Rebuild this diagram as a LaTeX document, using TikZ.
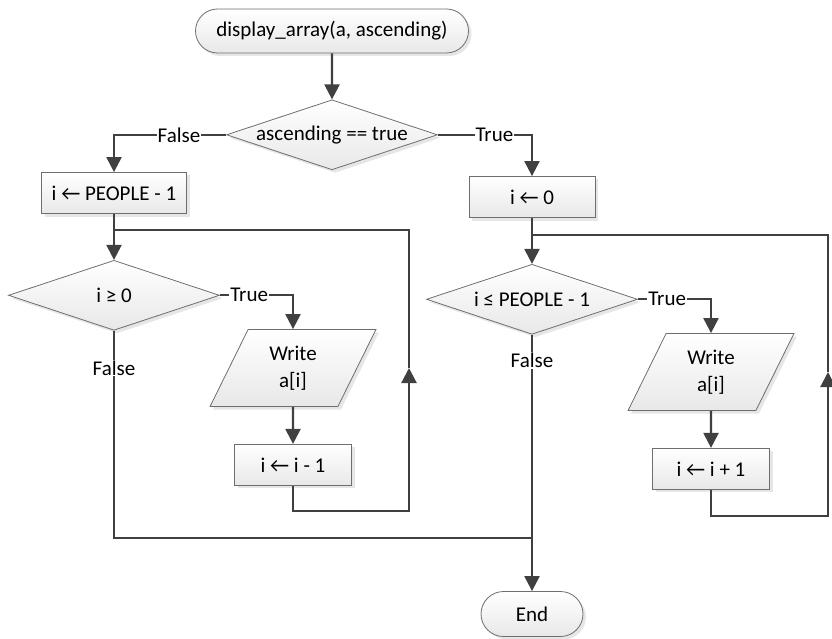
\documentclass[tikz,border=0pt]{standalone}
\usepackage{fontspec}
\setmainfont{Carlito}
\usetikzlibrary{
    positioning,
    arrows.meta,
    shapes.geometric,
    shapes.misc,
    shadows
}

\definecolor{linegray}{HTML}{404040}
\definecolor{bordergray}{HTML}{6E6E6E}

\begin{document}
\begin{tikzpicture}[
    x=1pt, y=-1pt,
    every node/.style={font=\fontsize{21}{27}\selectfont},
    box/.style={draw=bordergray, line width=0.8pt, top color=white, bottom color=gray!18, drop shadow={opacity=0.2, shadow xshift=3pt, shadow yshift=-3pt}, align=center, inner sep=0pt},
    terminal/.style={box, rounded rectangle, minimum height=44pt},
    process/.style={box, rectangle, minimum height=41pt},
    decision/.style={box, diamond, aspect=3, minimum width=211pt, minimum height=70pt},
    io/.style={box, trapezium, trapezium left angle=65.6, trapezium right angle=114.4, trapezium stretches=true, minimum width=166pt, minimum height=77pt},
    line/.style={draw=linegray, line width=2.2pt},
    arrow/.style={line, -{Triangle[length=15pt, width=15pt]}},
    lbl/.style={fill=white, inner sep=1pt}
]
\useasboundingbox (0,0) rectangle (832,639);

\node[terminal, minimum width=273pt] (start) at (332,31) {display\_array(a, ascending)};
\node[decision, below=46pt of start] (cond) {ascending == true};

% descending branch
\node[process, minimum width=145pt] (initdown) at (114,193) {i ← PEOPLE - 1};
\node[decision, below=46pt of initdown] (loopdown) {i ≥ 0};
\node[io] (writedown) at (293,368) {Write\\a[i]};
\node[process, minimum width=117pt, below=37pt of writedown] (decr) {i ← i - 1};

% ascending branch
\node[process, minimum width=126pt] (initup) at (532,197) {i ← 0};
\node[decision, below=46pt of initup] (loopup) {i ≤ PEOPLE - 1};
\node[io] (writeup) at (711,372) {Write\\a[i]};
\node[process, minimum width=117pt, below=37pt of writeup] (incr) {i ← i + 1};

\node[terminal, minimum width=102pt, minimum height=45pt] (stop) at (532,614) {End};

\coordinate (jdown) at (114,230);
\coordinate (rdown) at (409,511);
\coordinate (jup) at (532,235);
\coordinate (rup) at (828,516);
\coordinate (merge) at (532,538);

\draw[arrow] (start) -- (cond);
\draw[arrow] (cond.west) -- node[lbl, pos=0.42]{False} (initdown.north |- cond.west) -- (initdown.north);
\draw[arrow] (cond.east) -- node[lbl, pos=0.6]{True} (initup.north |- cond.east) -- (initup.north);

\draw[arrow] (initdown) -- (loopdown);
\draw[arrow] (loopdown.east) -- node[lbl, pos=0.4]{True} (writedown.north |- loopdown.east) -- (writedown.north);
\draw[arrow] (writedown) -- (decr);
\draw[arrow] (decr.south) |- (rdown) -- (rdown |- writedown.center);
\draw[line] (rdown |- writedown.center) -- (rdown |- jdown) -- (jdown);
\draw[line] (loopdown.south) -- node[lbl, pos=0.18]{False} (loopdown.south |- merge) -- (merge);

\draw[arrow] (initup) -- (loopup);
\draw[arrow] (loopup.east) -- node[lbl, pos=0.4]{True} (writeup.north |- loopup.east) -- (writeup.north);
\draw[arrow] (writeup) -- (incr);
\draw[arrow] (incr.south) |- (rup) -- (rup |- writeup.center);
\draw[line] (rup |- writeup.center) -- (rup |- jup) -- (jup);
\draw[arrow] (loopup.south) -- node[lbl, pos=0.1]{False} (stop.north);

\end{tikzpicture}
\end{document}
